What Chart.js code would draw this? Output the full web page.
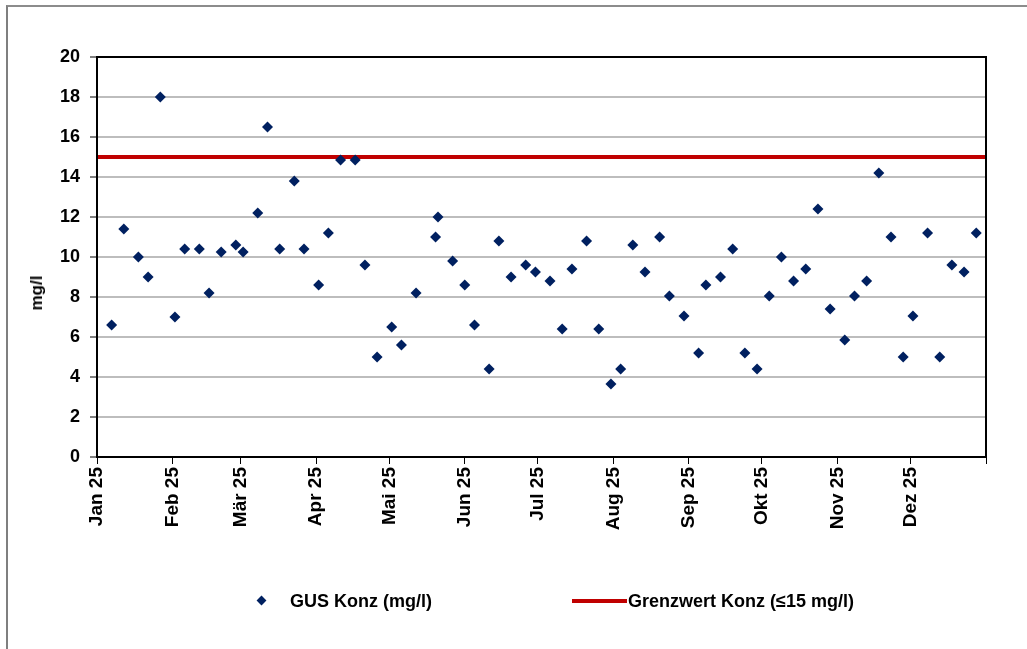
<!DOCTYPE html>
<html>
<head>
<meta charset="utf-8">
<script src="https://cdn.jsdelivr.net/npm/chart.js@4"></script>
<style>
    body { margin: 0; background: #fff; font-family: "Liberation Sans", Arial, sans-serif; }
    #wrap { position: relative; width: 1027px; height: 649px; overflow: hidden; }
    #frame { position: absolute; left: 6px; top: 5px; right: -2px; bottom: -2px;
             border-left: 2px solid #7f7f7f; border-top: 2px solid #8c8c8c; }
    #chart { position: absolute; left: 0; top: 0; }
    .lg { position: absolute; font-weight: bold; font-size: 18px; color: #000; line-height: 20px; white-space: nowrap; }
    #ytitle { position: absolute; left: 37px; top: 293px; font-weight: bold; font-size: 17px;
              transform: translate(-50%, -50%) rotate(-90deg); white-space: nowrap; }
</style>
</head>
<body>
<div id="wrap">
    <div id="frame"></div>
    <canvas id="chart" width="1027" height="649"></canvas>
    <div id="ytitle"></div>
    <div id="legend"></div>
</div>
<script>
// Axis ticks
const monthLabels = ['Jan 25', 'Feb 25', 'Mär 25', 'Apr 25', 'Mai 25', 'Jun 25',
                     'Jul 25', 'Aug 25', 'Sep 25', 'Okt 25', 'Nov 25', 'Dez 25'];
const monthStarts = [0, 31, 59, 90, 120, 151, 181, 212, 243, 273, 304, 334, 365];

// Sampling days (days since 1 Jan 2025) and measured concentrations
const sampleDays = [6, 11, 17, 21, 26, 32, 36, 42, 46, 51, 57, 60, 66, 70, 75, 81, 85, 91, 95, 100,
                    106, 110, 115, 121, 125, 131, 139, 140, 146, 151, 155, 161, 165, 170, 176, 180,
                    186, 191, 195, 201, 206, 211, 215, 220, 225, 231, 235, 241, 247, 250, 256, 261,
                    266, 271, 276, 281, 286, 291, 296, 301, 307, 311, 316, 321, 326, 331, 335, 341,
                    346, 351, 356, 361];
const gusValues = [6.6, 11.4, 10.0, 9.0, 18.0, 7.0, 10.4, 10.4, 8.2, 10.25, 10.6, 10.25, 12.2, 16.5,
                   10.4, 13.8, 10.4, 8.6, 11.2, 14.85, 14.85, 9.6, 5.0, 6.5, 5.6, 8.2, 11.0, 12.0,
                   9.8, 8.6, 6.6, 4.4, 10.8, 9.0, 9.6, 9.25, 8.8, 6.4, 9.4, 10.8, 6.4, 3.65, 4.4,
                   10.6, 9.25, 11.0, 8.05, 7.05, 5.2, 8.6, 9.0, 10.4, 5.2, 4.4, 8.05, 10.0, 8.8,
                   9.4, 12.4, 7.4, 5.85, 8.05, 8.8, 14.2, 11.0, 5.0, 7.05, 11.2, 5.0, 9.6, 9.25, 11.2];
const limitValue = 15;
const seriesLabels = ['GUS Konz (mg/l)', 'Grenzwert Konz (\u226415 mg/l)'];
const yTitle = 'mg/l';

const navy = '#002060';
const red = '#c00000';
const font = "'Liberation Sans', Arial, sans-serif";

// black frame round the plot area
const plotFrame = {
    id: 'plotFrame',
    afterDraw(chart) {
        const a = chart.chartArea;
        const c = chart.ctx;
        c.save();
        c.strokeStyle = '#000';
        c.lineWidth = 2;
        c.strokeRect(a.left, a.top, a.right - a.left, a.bottom - a.top);
        c.restore();
    }
};

const chart = new Chart(document.getElementById('chart'), {
    type: 'scatter',
    data: {
        datasets: [{
            label: seriesLabels[0],
            data: sampleDays.map((d, i) => ({ x: d, y: gusValues[i] })),
            pointStyle: 'rectRot',
            pointRadius: 5.5,
            backgroundColor: navy,
            borderColor: navy,
            borderWidth: 0,
            order: 0
        }, {
            label: seriesLabels[1],
            type: 'line',
            data: [{ x: monthStarts[0], y: limitValue }, { x: monthStarts[monthStarts.length - 1], y: limitValue }],
            borderColor: red,
            borderWidth: 4,
            pointRadius: 0,
            fill: false,
            order: 1
        }]
    },
    options: {
        responsive: false,
        animation: false,
        layout: { padding: { left: 27, top: 57, right: 41, bottom: 117 } },
        plugins: {
            legend: { display: false },
            tooltip: { enabled: false }
        },
        scales: {
            x: {
                type: 'linear',
                min: 0,
                max: 365,
                afterBuildTicks: s => { s.ticks = monthStarts.map(v => ({ value: v })); },
                afterFit: s => { s.height = 75; },
                ticks: {
                    autoSkip: false,
                    minRotation: 90,
                    maxRotation: 90,
                    padding: 3,
                    color: '#000',
                    font: { family: font, size: 19, weight: 'bold' },
                    callback: (v, i) => monthLabels[i] || ''
                },
                grid: { drawOnChartArea: false, tickLength: 7, color: '#000', lineWidth: 1 },
                border: { color: '#000', width: 2 }
            },
            y: {
                min: 0,
                max: 20,
                afterFit: s => { s.width = 70; },
                ticks: {
                    stepSize: 2,
                    padding: 10,
                    color: '#000',
                    font: { family: font, size: 18, weight: 'bold' }
                },
                grid: { color: '#bdbdbd', lineWidth: 2, tickLength: 7, tickColor: '#000', tickWidth: 1 },
                border: { color: '#000', width: 2 }
            }
        }
    },
    plugins: [plotFrame]
});

document.getElementById('ytitle').textContent = yTitle;

// legend below the plot
const legend = document.getElementById('legend');
legend.innerHTML =
    '<div style="position:absolute;left:258px;top:597px;width:7px;height:7px;background:' + navy + ';transform:rotate(45deg)"></div>' +
    '<div class="lg" style="left:290px;top:591px">' + seriesLabels[0] + '</div>' +
    '<div style="position:absolute;left:572px;top:599px;width:55px;height:4px;background:' + red + '"></div>' +
    '<div class="lg" style="left:628px;top:591px">' + seriesLabels[1] + '</div>';
</script>
</body>
</html>
